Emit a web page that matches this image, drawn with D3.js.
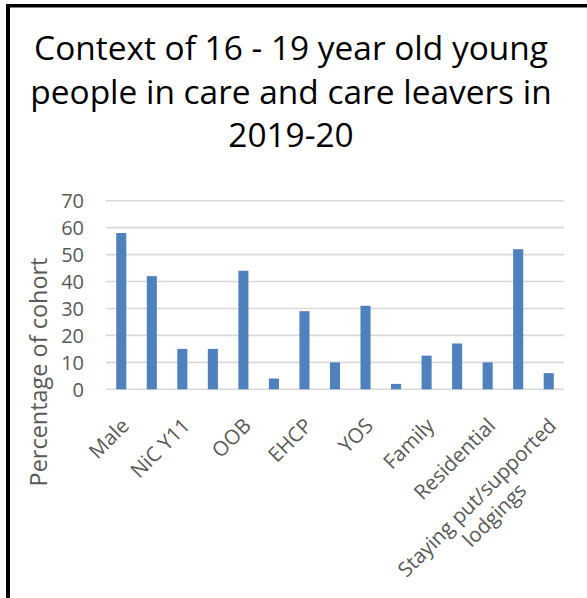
<!DOCTYPE html>
<html>
<head>
<meta charset="utf-8">
<script src="https://cdn.jsdelivr.net/npm/d3@7"></script>
<style>
  html, body { margin: 0; padding: 0; background: #fff; }
  svg { display: block; }
  text { font-family: "Open Sans", "DejaVu Sans", sans-serif; }
</style>
</head>
<body>
<svg id="chart" width="587" height="598"></svg>
<script>
// Share of the 16-19 cohort (young people in care and care leavers), per group
const values = [58, 42, 15, 15, 44, 4, 29, 10, 31, 2, 12.5, 17, 10, 52, 6];
// Category axis labels; only alternate categories carry a visible label
const labels = ["Male", "", "NiC Y11", "", "OOB", "", "EHCP", "", "YOS", "",
                "Family", "", "Residential", "", "Staying put/supported lodgings"];
const yTicks = [0, 10, 20, 30, 40, 50, 60, 70];
const titleLines = ["Context of 16 - 19 year old young",
                    "people in care and care leavers in",
                    "2019-20"];
const yTitle = "Percentage of cohort";

const svg = d3.select("#chart");
const W = 587, H = 598;
const plot = { left: 106, right: 564, top: 200.7, bottom: 389.3 };
const labelColor = "#595959";

// frame edges
svg.append("rect").attr("x", 6).attr("y", 4).attr("width", W - 6).attr("height", 3.5).attr("fill", "#000");
svg.append("rect").attr("x", 6).attr("y", 4).attr("width", 4).attr("height", H - 4).attr("fill", "#000");

// scale a text element's font so its rendered width hits a target
function fitWidth(node, target, base) {
  node.setAttribute("font-size", base);
  const w = node.getComputedTextLength();
  node.setAttribute("font-size", (base * target / w).toFixed(2));
}

// title
const title = svg.append("g");
titleLines.forEach((line, i) => {
  title.append("text")
    .attr("x", 291).attr("y", 60 + i * 43.5)
    .attr("text-anchor", "middle")
    .attr("fill", "#000")
    .text(line);
});
{
  const first = title.select("text").node();
  fitWidth(first, 514, 30);
  title.selectAll("text").attr("font-size", first.getAttribute("font-size"));
}

const x = d3.scaleBand()
  .domain(d3.range(values.length))
  .range([plot.left, plot.right])
  .paddingInner(0.67)
  .paddingOuter(0.335);

const y = d3.scaleLinear().domain([0, 70]).range([plot.bottom, plot.top]);

// gridlines
svg.append("g")
  .selectAll("line")
  .data(yTicks)
  .join("line")
  .attr("x1", plot.left).attr("x2", plot.right)
  .attr("y1", d => y(d)).attr("y2", d => y(d))
  .attr("stroke", "#d9d9d9")
  .attr("stroke-width", 1.6);

// y axis labels
const yAxis = svg.append("g")
  .attr("transform", `translate(84,0)`)
  .call(d3.axisLeft(y).tickValues(yTicks).tickSize(0).tickPadding(0));
yAxis.select(".domain").remove();
yAxis.selectAll("text")
  .attr("fill", labelColor)
  .attr("font-size", 20)
  .attr("font-family", '"Open Sans", sans-serif')
  .attr("dy", "0.36em");

// bars
svg.append("g")
  .selectAll("rect")
  .data(values)
  .join("rect")
  .attr("x", (d, i) => x(i))
  .attr("width", x.bandwidth())
  .attr("y", d => y(d))
  .attr("height", d => y(0) - y(d))
  .attr("fill", "#4f81bd");

// x axis labels, rotated -45 degrees, text ending just below and right of each bar
const xFont = 20.5;
const xLabels = svg.append("g");
labels.forEach((label, i) => {
  if (!label) return;
  const cx = x(i) + x.bandwidth() / 2;
  const g = xLabels.append("g")
    .attr("transform", `translate(${cx + 9},${427}) rotate(-45)`);
  const probe = g.append("text").attr("font-size", xFont);
  const measure = s => { probe.text(s); return probe.node().getComputedTextLength(); };
  // wrap long labels onto centred lines
  const words = label.split(" ");
  const lines = [words[0]];
  for (let k = 1; k < words.length; k++) {
    const trial = lines[lines.length - 1] + " " + words[k];
    if (measure(trial) > 240) lines.push(words[k]);
    else lines[lines.length - 1] = trial;
  }
  const w0 = measure(lines[0]);
  probe.remove();
  lines.forEach((ln, k) => {
    g.append("text")
      .attr("fill", labelColor)
      .attr("font-size", xFont)
      .attr("x", lines.length > 1 ? -w0 / 2 : 0)
      .attr("y", k * xFont * 1.2)
      .attr("text-anchor", lines.length > 1 ? "middle" : "end")
      .text(ln);
  });
});

// y axis title
const yt = svg.append("text")
  .attr("transform", `translate(47,372) rotate(-90)`)
  .attr("text-anchor", "middle")
  .attr("fill", labelColor)
  .text(yTitle);
fitWidth(yt.node(), 229, 20);
</script>
</body>
</html>
